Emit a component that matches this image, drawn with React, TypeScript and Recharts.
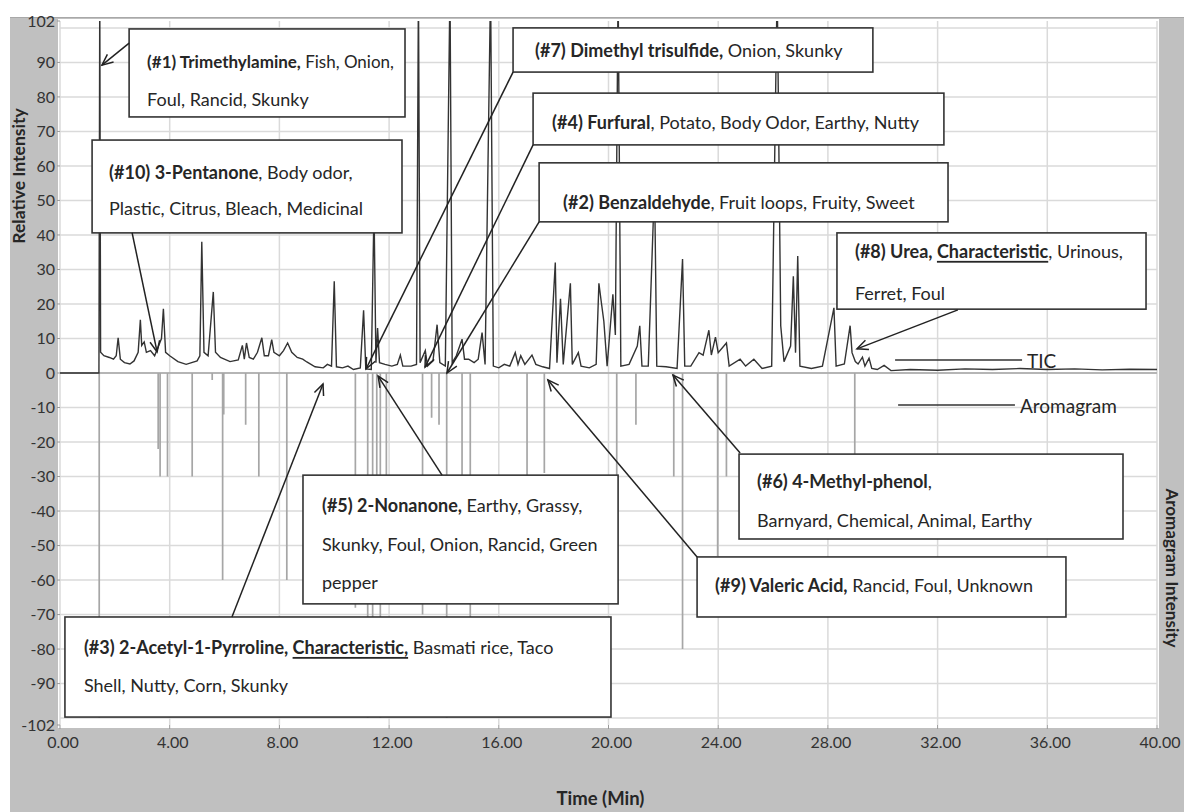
import React from 'react';
import {
  ComposedChart,
  Line,
  XAxis,
  YAxis,
  CartesianGrid,
  ReferenceLine,
  ReferenceArea,
} from 'recharts';

// ---------- axis ticks ----------
const timeTicks = [0, 4, 8, 12, 16, 20, 24, 28, 32, 36, 40];
const intensityTicks = [-102, -90, -80, -70, -60, -50, -40, -30, -20, -10, 0, 10, 20, 30, 40, 50, 60, 70, 80, 90, 102];
const gridValues = [-100, -90, -80, -70, -60, -50, -40, -30, -20, -10, 0, 10, 20, 30, 40, 50, 60, 70, 80, 90, 100];

// ---------- TIC trace (time in min, relative intensity) ----------
const ticTimes = [
  0, 1.42, 1.45, 1.48, 1.6, 1.8, 1.95, 2.05, 2.12, 2.2,
  2.35, 2.55, 2.7, 2.85, 2.93, 2.98, 3.07, 3.15, 3.3, 3.45,
  3.6, 3.7, 3.77, 3.85, 4.0, 4.3, 4.6, 4.8, 5.0, 5.1,
  5.17, 5.25, 5.4, 5.59, 5.67, 5.85, 6.2, 6.5, 6.65, 6.72,
  6.8, 6.9, 7.05, 7.2, 7.36, 7.45, 7.6, 7.72, 7.8, 8.0,
  8.15, 8.3, 8.45, 8.65, 8.85, 9.0, 9.3, 9.6, 9.75, 9.9,
  10.0, 10.08, 10.3, 10.5, 10.7, 10.95, 11.07, 11.15, 11.35, 11.45,
  11.52, 11.58, 11.65, 11.85, 12.1, 12.3, 12.41, 12.5, 12.8, 13.0,
  13.07, 13.13, 13.32, 13.4, 13.6, 13.75, 13.85, 14.05, 14.22, 14.3,
  14.45, 14.66, 14.75, 14.9, 15.1, 15.25, 15.39, 15.5, 15.7, 15.8,
  16.0, 16.2, 16.4, 16.6, 16.7, 16.8, 16.95, 17.21, 17.35, 17.6,
  17.85, 18.06, 18.12, 18.25, 18.35, 18.61, 18.68, 18.9, 19.0, 19.3,
  19.55, 19.65, 19.73, 19.83, 19.95, 20.16, 20.25, 20.35, 20.45, 20.75,
  21.05, 21.14, 21.22, 21.45, 21.68, 21.76, 22.1, 22.5, 22.7, 22.78,
  23.0, 23.3, 23.45, 23.66, 23.75, 23.9, 24.0, 24.3, 24.4, 24.8,
  25.0, 25.3, 25.6, 25.95, 26.15, 26.28, 26.4, 26.64, 26.74, 26.82,
  26.9, 26.98, 27.4, 27.8, 28.22, 28.3, 28.6, 28.81, 28.88, 29.0,
  29.1, 29.26, 29.35, 29.5, 29.6, 29.8, 30.05, 30.3, 31, 32,
  33, 34, 35, 36, 37, 38, 39, 40,
];
const ticValues = [
  0, 0, 112, 6, 5, 4.5, 4, 5, 10.2, 4,
  3, 2.6, 3.5, 6, 15.4, 8, 9, 6, 6.5, 5,
  8, 10, 18.6, 6, 5, 3.3, 2.5, 3, 3.5, 5,
  38, 6, 5, 23.5, 6, 4.5, 3.3, 3.8, 8, 4,
  8.7, 4.5, 4, 6, 10.2, 5, 5, 9.7, 6, 5,
  6.5, 8.7, 6, 4.5, 4, 3.2, 1.8, 1.5, 2.5, 2,
  26.6, 1.8, 1.5, 2, 1, 1.5, 18.2, 1.2, 1, 48,
  3, 13, 3, 2.5, 2, 2.5, 5.2, 2, 2, 2.5,
  112, 3, 6.5, 2, 3.5, 14, 3, 2, 112, 3,
  5, 9.8, 4, 4, 3, 4, 11.7, 2.5, 112, 2,
  1.5, 2.5, 2, 5.9, 2.5, 5, 2.5, 5.2, 2.5, 1.8,
  1.3, 32, 3, 21.5, 2.5, 26, 2.5, 5.9, 2, 1.5,
  2.5, 26, 21, 15, 2, 22.8, 11, 112, 2, 2.5,
  7.8, 13.7, 2, 2, 55, 2, 1.8, 1.3, 33, 2,
  2, 5.9, 5.2, 12.4, 5.2, 10.4, 5.9, 8.7, 2, 4,
  2, 4, 1.3, 2, 112, 13.7, 3.3, 7.8, 28, 5.9,
  33.9, 2, 1.3, 2, 18.9, 2, 2.6, 13.7, 5.9, 3.3,
  2.6, 4.6, 2, 4.3, 1.3, 1, 2.2, 0.7, 1, 0.8,
  1.2, 1, 1.3, 1, 1.2, 0.9, 1.1, 1,
];

// ---------- Aromagram (odour events, negative intensity) ----------
const aromaTimes = [
  1.43, 3.58, 3.65, 3.92, 4.82, 5.55, 5.93, 5.97, 6.77, 7.25,
  8.27, 10.77, 11.22, 11.4, 11.55, 11.68, 11.9, 13.22, 13.55, 13.82,
  14.1, 14.66, 14.96, 17.03, 17.66, 20.3, 21.0, 22.38, 22.7, 23.98,
  24.3, 28.98,
];
const aromaValues = [
  -100, -22, -30, -30, -30, -2, -60, -12, -15, -30,
  -60, -68, -100, -72, -40, -100, -30, -70, -13, -15,
  -100, -30, -71, -60, -29, -30, -15, -30, -80, -53,
  -30, -24,
];

// ---------- tables built for the library ----------
const ticData = ticTimes.map((t, i) => ({ t, v: ticValues[i] }));
const aromaData: { t: number; a: number }[] = [{ t: 0, a: 0 }];
aromaTimes.forEach((t, i) => {
  aromaData.push({ t, a: 0 }, { t, a: aromaValues[i] }, { t, a: 0 });
});
aromaData.push({ t: 40, a: 0 });

// ---------- annotations ----------
type Seg = { t: string; b?: boolean; u?: boolean };
type Box = {
  x1: number; x2: number; y1: number; y2: number;
  padX: number; lineY: number[]; lines: Seg[][]; sizes?: number[];
  from: [number, number]; to: [number, number];
};

const boxes: Box[] = [
  {
    x1: 2.52, x2: 12.58, y1: 74.2, y2: 99.7, padX: 18, lineY: [32, 70], sizes: [17, 18],
    lines: [[{ t: '(#1) Trimethylamine,', b: true }, { t: ' Fish, Onion,' }], [{ t: 'Foul, Rancid, Skunky' }]],
    from: [2.52, 95.6], to: [1.53, 89.2],
  },
  {
    x1: 1.17, x2: 12.47, y1: 40.6, y2: 67.5, padX: 17, lineY: [32, 68],
    lines: [[{ t: '(#10) 3-Pentanone', b: true }, { t: ', Body odor,' }], [{ t: 'Plastic, Citrus, Bleach, Medicinal' }]],
    from: [2.63, 40.6], to: [3.54, 6.1],
  },
  {
    x1: 16.52, x2: 29.64, y1: 87.2, y2: 100.0, padX: 22, lineY: [22],
    lines: [[{ t: '(#7) Dimethyl trisulfide,', b: true }, { t: ' Onion, Skunky' }]],
    from: [16.52, 87.2], to: [11.16, 1.2],
  },
  {
    x1: 17.25, x2: 32.23, y1: 66.1, y2: 81.1, padX: 19, lineY: [29],
    lines: [[{ t: '(#4) Furfural', b: true }, { t: ', Potato, Body Odor, Earthy, Nutty' }]],
    from: [17.25, 66.1], to: [13.31, 1.7],
  },
  {
    x1: 17.47, x2: 32.38, y1: 43.8, y2: 60.9, padX: 24, lineY: [39],
    lines: [[{ t: '(#2) Benzaldehyde', b: true }, { t: ', Fruit loops, Fruity, Sweet' }]],
    from: [17.47, 43.8], to: [14.11, 0],
  },
  {
    x1: 28.33, x2: 39.6, y1: 18.5, y2: 40.6, padX: 18, lineY: [18, 60],
    lines: [
      [{ t: '(#8) Urea, ', b: true }, { t: 'Characteristic', b: true, u: true }, { t: ', Urinous,' }],
      [{ t: 'Ferret, Foul' }],
    ],
    from: [32.74, 18.3], to: [29.06, 7.0],
  },
  {
    x1: 24.76, x2: 38.76, y1: -48.1, y2: -23.5, padX: 18, lineY: [27, 66],
    lines: [[{ t: '(#6) 4-Methyl-phenol', b: true }, { t: ',' }], [{ t: 'Barnyard, Chemical, Animal, Earthy' }]],
    from: [24.8, -23.2], to: [22.35, -0.6],
  },
  {
    x1: 23.23, x2: 36.68, y1: -70.7, y2: -53.3, padX: 18, lineY: [28],
    lines: [[{ t: '(#9) Valeric Acid,', b: true }, { t: ' Rancid, Foul, Unknown' }]],
    from: [23.23, -53.3], to: [17.79, -2.0],
  },
  {
    x1: 8.86, x2: 20.35, y1: -66.9, y2: -29.6, padX: 19, lineY: [30, 69, 107],
    lines: [
      [{ t: '(#5) 2-Nonanone,', b: true }, { t: ' Earthy, Grassy,' }],
      [{ t: 'Skunky, Foul, Onion, Rancid, Green' }],
      [{ t: 'pepper' }],
    ],
    from: [13.93, -29.6], to: [11.6, -0.9],
  },
  {
    x1: 0.18, x2: 20.09, y1: -99.7, y2: -70.7, padX: 19, lineY: [30, 68],
    lines: [
      [{ t: '(#3) 2-Acetyl-1-Pyrroline, ', b: true }, { t: 'Characteristic,', b: true, u: true }, { t: ' Basmati rice, Taco' }],
      [{ t: 'Shell, Nutty, Corn, Skunky' }],
    ],
    from: [6.27, -70.7], to: [9.59, -3.2],
  },
];

const legendItems = [
  { name: 'TIC', x1: 30.45, x2: 35.08, y: 3.77 },
  { name: 'Aromagram', x1: 30.56, x2: 34.82, y: -9.27 },
];

const FONT = 'Lato, "Liberation Sans", Arial, sans-serif';
const TEXT_COLOR = '#262626';

const makeBoxShape = (box: Box) => (p: any) => {
  const { x, y, width, height } = p;
  return (
    <g>
      <rect x={x} y={y} width={width} height={height} fill="#ffffff" stroke="#333333" strokeWidth={1.6} />
      {box.lines.map((segs, i) => (
        <text
          key={i}
          x={x + box.padX}
          y={y + box.lineY[i]}
          dominantBaseline="central"
          fontSize={box.sizes ? box.sizes[i] : 18}
          fill={TEXT_COLOR}
          fontFamily={FONT}
          style={{ whiteSpace: 'pre' }}
        >
          {segs.map((s, j) => (
            <tspan key={j} fontWeight={s.b ? 700 : 400} textDecoration={s.u ? 'underline' : undefined}>
              {s.t}
            </tspan>
          ))}
        </text>
      ))}
    </g>
  );
};

const arrowShape = (p: any) => {
  const { x1, y1, x2, y2 } = p;
  if ([x1, y1, x2, y2].some((v) => typeof v !== 'number' || isNaN(v))) return <g />;
  const a = Math.atan2(y2 - y1, x2 - x1);
  const L = 12;
  const w = 0.42;
  const hx1 = x2 - L * Math.cos(a - w);
  const hy1 = y2 - L * Math.sin(a - w);
  const hx2 = x2 - L * Math.cos(a + w);
  const hy2 = y2 - L * Math.sin(a + w);
  return (
    <g>
      <line x1={x1} y1={y1} x2={x2} y2={y2} stroke="#222" strokeWidth={1.5} />
      <polyline points={`${hx1},${hy1} ${x2},${y2} ${hx2},${hy2}`} fill="none" stroke="#222" strokeWidth={1.5} />
    </g>
  );
};

const makeLegendShape = (name: string) => (p: any) => {
  const { x1, y1, x2, y2 } = p;
  return (
    <g>
      <line x1={x1} y1={y1} x2={x2} y2={y2} stroke="#333" strokeWidth={1.4} />
      <text x={x2 + 5} y={y2 + 1} dominantBaseline="central" fontSize={19} fill={TEXT_COLOR} fontFamily={FONT}>
        {name}
      </text>
    </g>
  );
};

export default function App() {
  return (
    <div style={{ position: 'absolute', left: 0, top: 0, width: 1184, height: 812, background: '#ffffff', fontFamily: FONT, overflow: 'hidden' }}>
      <div style={{ position: 'absolute', left: 10, top: 17, width: 1174, height: 795, background: '#c0c0c0', borderTop: '1px solid #a8a8a8' }} />
      <div style={{ position: 'absolute', left: 58, top: 19, width: 1101, height: 709, background: '#ffffff' }} />
      <div style={{ position: 'absolute', left: 0, top: 0 }}>
        <ComposedChart width={1184} height={812} margin={{ top: 21, right: 0, bottom: 0, left: 0 }}>
          <CartesianGrid
            stroke="#dadada"
            strokeWidth={1.5}
            horizontalValues={gridValues}
          />
          <XAxis
            type="number"
            dataKey="t"
            domain={[0, 40]}
            ticks={timeTicks}
            allowDataOverflow
            height={87}
            axisLine={false}
            tickSize={4}
            tickMargin={8}
            tickLine={{ stroke: '#999' }}
            tickFormatter={(v: number) => v.toFixed(2)}
            tick={{ fontSize: 16, fill: '#333', dx: 3 }}
            label={{
              content: (p: any) => {
                const vb = p.viewBox || { x: 60, y: 725, width: 1097 };
                return (
                  <text x={vb.x + vb.width / 2 - 8} y={vb.y + 73} textAnchor="middle" dominantBaseline="central" fontSize={18.5} fontWeight={700} fill={TEXT_COLOR} fontFamily={FONT}>
                    Time (Min)
                  </text>
                );
              },
            }}
          />
          <YAxis
            type="number"
            domain={[-102, 102]}
            ticks={intensityTicks}
            allowDataOverflow
            width={60}
            axisLine={false}
            tickSize={3}
            tickMargin={2}
            tickLine={{ stroke: '#999' }}
            tick={{ fontSize: 16, fill: '#333' }}
            label={{
              content: (p: any) => {
                const vb = p.viewBox || { x: 0, y: 21 };
                const cx = vb.x + 18;
                const cy = vb.y + 155;
                return (
                  <text x={cx} y={cy} transform={`rotate(-90, ${cx}, ${cy})`} textAnchor="middle" dominantBaseline="central" fontSize={17.5} fontWeight={700} fill={TEXT_COLOR} fontFamily={FONT}>
                    Relative Intensity
                  </text>
                );
              },
            }}
          />
          <YAxis
            yAxisId="r"
            orientation="right"
            type="number"
            domain={[-102, 102]}
            allowDataOverflow
            width={27}
            axisLine={false}
            tickLine={false}
            tick={false}
            label={{
              content: (p: any) => {
                const vb = p.viewBox || { x: 1157, y: 21 };
                const cx = vb.x + 15;
                const cy = vb.y + 547;
                return (
                  <text x={cx} y={cy} transform={`rotate(90, ${cx}, ${cy})`} textAnchor="middle" dominantBaseline="central" fontSize={17} fontWeight={700} fill={TEXT_COLOR} fontFamily={FONT}>
                    Aromagram Intensity
                  </text>
                );
              },
            }}
          />
          <Line
            data={aromaData}
            dataKey="a"
            name="Aromagram"
            type="linear"
            stroke="#a6a6a6"
            strokeWidth={1.7}
            dot={false}
            activeDot={false}
            isAnimationActive={false}
          />
          <Line
            data={ticData}
            dataKey="v"
            name="TIC"
            type="linear"
            stroke="#333333"
            strokeWidth={1.4}
            dot={false}
            activeDot={false}
            isAnimationActive={false}
          />
          {boxes.map((b, i) => (
            <ReferenceArea
              key={`box-${i}`}
              x1={b.x1}
              x2={b.x2}
              y1={b.y1}
              y2={b.y2}
              ifOverflow="visible"
              shape={makeBoxShape(b)}
              {...({ zIndex: 1500 } as any)}
            />
          ))}
          {boxes.map((b, i) => (
            <ReferenceLine
              key={`arrow-${i}`}
              segment={[{ x: b.from[0], y: b.from[1] }, { x: b.to[0], y: b.to[1] }]}
              ifOverflow="visible"
              shape={arrowShape}
              {...({ zIndex: 1600 } as any)}
            />
          ))}
          {legendItems.map((l) => (
            <ReferenceLine
              key={`leg-${l.name}`}
              segment={[{ x: l.x1, y: l.y }, { x: l.x2, y: l.y }]}
              ifOverflow="visible"
              shape={makeLegendShape(l.name)}
              {...({ zIndex: 1600 } as any)}
            />
          ))}
        </ComposedChart>
      </div>
    </div>
  );
}
